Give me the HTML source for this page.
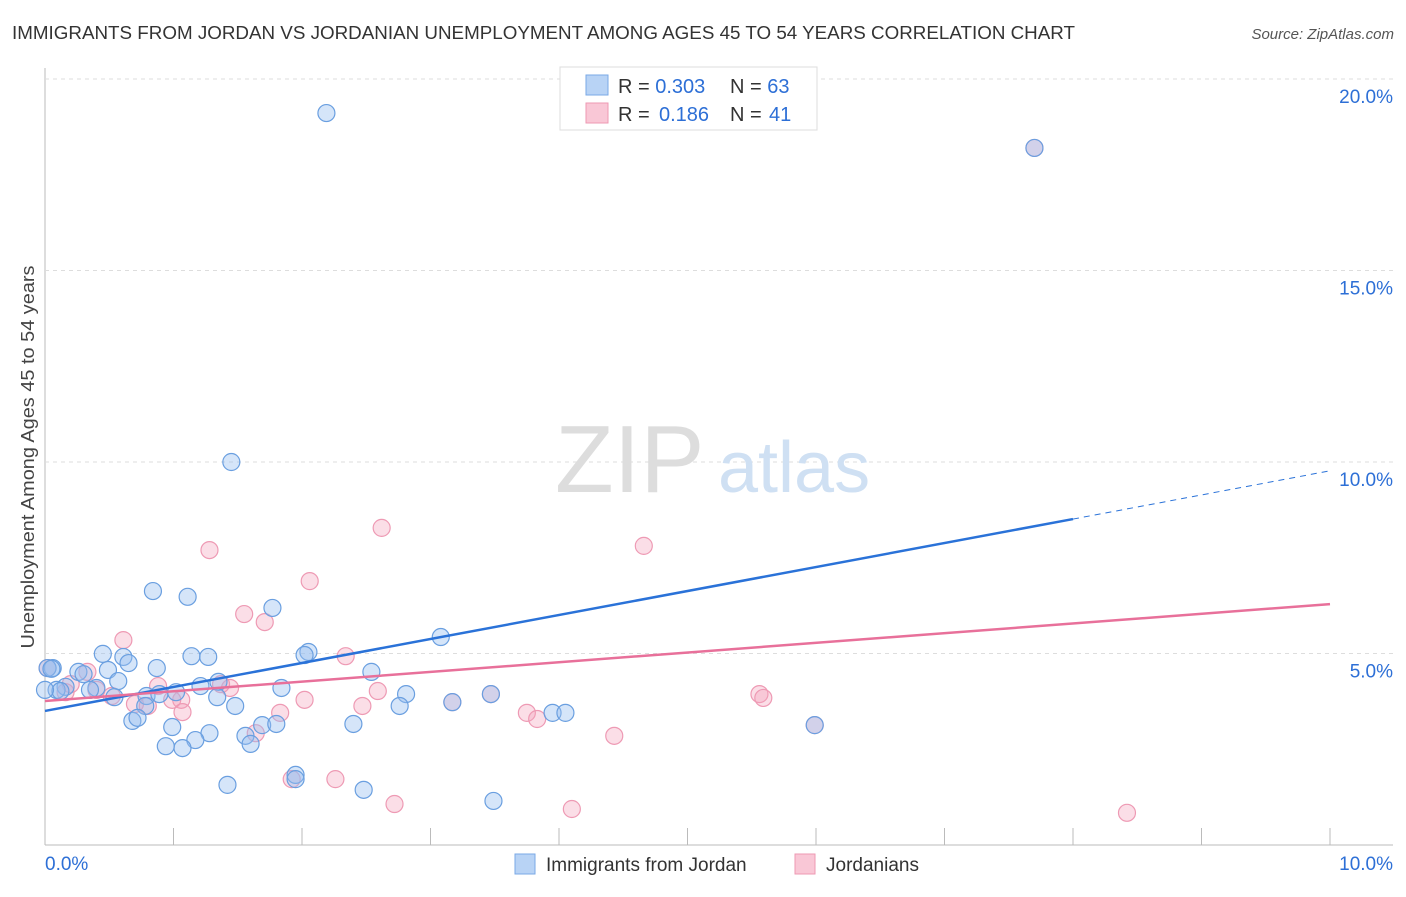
<!DOCTYPE html>
<html><head><meta charset="utf-8"><style>
body{margin:0;background:#fff;font-family:"Liberation Sans",sans-serif;}
svg text{font-family:"Liberation Sans",sans-serif;}
</style></head><body>
<svg id="chart" width="1406" height="892" xmlns="http://www.w3.org/2000/svg">
<text x="12" y="39" font-size="18" fill="#333" textLength="1063" lengthAdjust="spacingAndGlyphs">IMMIGRANTS FROM JORDAN VS JORDANIAN UNEMPLOYMENT AMONG AGES 45 TO 54 YEARS CORRELATION CHART</text>
<text x="1394" y="39" font-size="15" fill="#555" font-style="italic" text-anchor="end">Source: ZipAtlas.com</text>
<text transform="translate(34,457) rotate(-90)" font-size="18" fill="#444" text-anchor="middle" textLength="383" lengthAdjust="spacingAndGlyphs">Unemployment Among Ages 45 to 54 years</text>
<g id="grid"></g>
<text x="555" y="492" font-size="96" fill="#ddd" font-family="Liberation Serif">ZIP</text>
<text x="718" y="492" font-size="72" fill="#cfe0f3">atlas</text>
<g id="points"></g>
<g id="lines"></g>
<g>
<rect x="560" y="67" width="257" height="63" fill="#fff" stroke="#ddd"/>
<rect x="586" y="75" width="22" height="20" fill="#b8d3f5" stroke="#7aa8e6"/>
<rect x="586" y="103" width="22" height="20" fill="#f9c7d6" stroke="#ee99b3"/>
<text x="618" y="93" font-size="20" fill="#333">R = <tspan fill="#2d6fd6">0.303</tspan><tspan x="730">N = </tspan><tspan fill="#2d6fd6">63</tspan></text>
<text x="618" y="121" font-size="20" fill="#333">R = <tspan x="659" fill="#2d6fd6">0.186</tspan><tspan x="730">N = </tspan><tspan x="769" fill="#2d6fd6">41</tspan></text>
</g>
<g>
<rect x="515" y="854" width="20" height="20" fill="#b8d3f5" stroke="#7aa8e6"/>
<text x="546" y="871" font-size="19" fill="#333">Immigrants from Jordan</text>
<rect x="795" y="854" width="20" height="20" fill="#f9c7d6" stroke="#ee99b3"/>
<text x="826" y="871" font-size="19" fill="#333">Jordanians</text>
</g>
</svg>
<script>
const yTicks=[5,10,15,20];
const yTickLabels=["5.0%","10.0%","15.0%","20.0%"];
const xTickLabels=["0.0%","10.0%"];
const blueX=[2.19,7.70,1.45,0.84,1.11,1.77,3.08,0.45,0.61,1.14,1.27,2.05,2.02,0.65,0.87,2.54,0.49,0.26,0.06,0.30,1.35,0.57,0.16,0.40,0.09,0.35,0.12,1.21,1.02,1.84,2.81,3.47,0.79,0.89,1.34,0.54,0.78,1.48,2.76,3.95,4.05,0.68,0.72,1.69,1.80,0.99,2.40,1.28,1.56,1.17,0.94,1.07,1.60,5.99,3.17,1.42,1.95,1.95,2.48,3.49,0.02,0.05,0.0];
const blueY=[19.11,18.20,10.0,6.63,6.48,6.19,5.43,4.99,4.91,4.93,4.91,5.04,4.96,4.75,4.62,4.52,4.57,4.52,4.62,4.46,4.26,4.28,4.13,4.10,4.05,4.05,4.02,4.15,3.99,4.10,3.94,3.94,3.89,3.94,3.86,3.86,3.63,3.63,3.63,3.45,3.45,3.24,3.32,3.13,3.16,3.08,3.16,2.92,2.85,2.74,2.58,2.53,2.64,3.13,3.73,1.57,1.83,1.72,1.44,1.15,4.62,4.60,4.05];
const pinkX=[7.70,2.62,4.66,1.28,2.06,1.55,1.71,0.61,2.34,0.02,0.33,0.20,0.88,1.44,1.37,0.40,0.16,0.52,1.06,2.02,0.99,0.70,0.80,1.07,2.47,2.59,3.17,3.47,5.56,5.59,3.75,3.83,1.83,4.43,1.64,2.26,1.92,2.72,4.10,8.42,5.99];
const pinkY=[18.20,8.28,7.81,7.70,6.89,6.03,5.82,5.35,4.93,4.62,4.52,4.20,4.15,4.10,4.20,4.05,3.99,3.89,3.79,3.79,3.79,3.68,3.63,3.47,3.63,4.02,3.73,3.94,3.94,3.84,3.45,3.29,3.45,2.85,2.92,1.72,1.72,1.07,0.94,0.84,3.13];
const blueLine=[[0,3.50],[8.0,8.51],[10,9.77]];
const pinkLine=[[0,3.76],[10,6.29]];
const NS="http://www.w3.org/2000/svg";
const X=v=>45+v*128.5, Y=v=>845-v*38.3;
const grid=document.getElementById('grid');
function el(t,a,p){const e=document.createElementNS(NS,t);for(const k in a)e.setAttribute(k,a[k]);p.appendChild(e);return e;}
const xa=el('line',{x1:45,y1:845,x2:1393,y2:845,stroke:'#bbb'},grid);


const ya=el('line',{x1:45,y1:68,x2:45,y2:845,stroke:'#bbb'},grid);


for(let i=0;i<=10;i++){const t=el('line',{x1:X(i),y1:828,x2:X(i),y2:845,stroke:'#bbb'},grid);

}
yTicks.forEach((v,i)=>{const g=el('line',{x1:45,y1:Y(v),x2:1393,y2:Y(v),stroke:'#ddd','stroke-dasharray':'4,4'},grid);


const t=el('text',{x:1393,y:Y(v)+24,'font-size':19,fill:'#2d6fd6','text-anchor':'end'},grid);t.textContent=yTickLabels[i];

});
const tx0=el('text',{x:45,y:870,'font-size':19,fill:'#2d6fd6'},grid);tx0.textContent=xTickLabels[0];


const tx1=el('text',{x:1393,y:870,'font-size':19,fill:'#2d6fd6','text-anchor':'end'},grid);tx1.textContent=xTickLabels[1];


const pts=document.getElementById('points');
pinkX.forEach((x,i)=>{const c=el('circle',{cx:X(x),cy:Y(pinkY[i]),r:8.5,fill:'rgba(244,160,186,0.35)',stroke:'#ee9ab4','stroke-width':1.2},pts);

});
blueX.forEach((x,i)=>{const c=el('circle',{cx:X(x),cy:Y(blueY[i]),r:8.5,fill:'rgba(150,190,240,0.4)',stroke:'#6a9fe0','stroke-width':1.2},pts);

});
const L=document.getElementById('lines');
const b1=el('line',{x1:X(blueLine[0][0]),y1:Y(blueLine[0][1]),x2:X(blueLine[1][0]),y2:Y(blueLine[1][1]),stroke:'#2a72d8','stroke-width':2.5},L);


const b2=el('line',{x1:X(blueLine[1][0]),y1:Y(blueLine[1][1]),x2:X(blueLine[2][0]),y2:Y(blueLine[2][1]),stroke:'#2a72d8','stroke-width':1,'stroke-dasharray':'6,5'},L);


const p1=el('line',{x1:X(pinkLine[0][0]),y1:Y(pinkLine[0][1]),x2:X(pinkLine[1][0]),y2:Y(pinkLine[1][1]),stroke:'#e8709a','stroke-width':2.5},L);


</script>
</body></html>
